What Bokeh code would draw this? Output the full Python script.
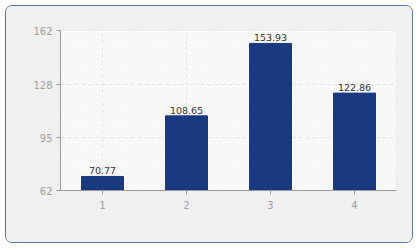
from bokeh.plotting import figure
from bokeh.models import FixedTicker, BoxAnnotation, ColumnDataSource, FactorRange
from bokeh.core.properties import value
from bokeh.embed import file_html
from bokeh.resources import INLINE

categories = ["1", "2", "3", "4"]
values = [70.77, 108.65, 153.93, 122.86]
labels = ["70.77", "108.65", "153.93", "122.86"]
y_ticks = [62, 95, 128, 162]

src = ColumnDataSource(dict(x=categories, top=values, label=labels))

p = figure(width=408, height=238, x_range=FactorRange(*categories), y_range=(62, 162),
           output_backend="svg", toolbar_location=None,
           min_border_left=54, min_border_top=24, min_border_right=18, min_border_bottom=54,
           background_fill_color="white", border_fill_color="#f0f0f0",
           outline_line_color="#e6e6e6", margin=(5, 5, 5, 5))
p.styles = {"border": "1px solid #5b73aa", "border-radius": "7px", "overflow": "hidden",
            "background-color": "#f0f0f0"}
p.x_range.range_padding = 0

hatch = BoxAnnotation(fill_color="white", fill_alpha=1, hatch_pattern="/", hatch_color="#ececec",
                      hatch_scale=5, hatch_weight=1, line_color=None, level="image")
p.add_layout(hatch)

p.vbar(x="x", top="top", bottom=62, width=0.5, source=src, fill_color="#183a80",
       line_color="#183a80")
p.text(x="x", y="top", text="label", source=src, text_align="center", text_baseline="bottom",
       y_offset=-2, text_font=value("DejaVu Sans"), text_font_size="9.5px", text_color="#333333")

for ax in (p.xaxis, p.yaxis):
    ax.axis_line_color = "#999999"
    ax.major_tick_line_color = "#999999"
    ax.minor_tick_line_color = None
    ax.major_tick_in = 0
    ax.major_tick_out = 4
    ax.major_label_text_color = "#a0a0a0"
    ax.major_label_text_font = "DejaVu Sans"
    ax.major_label_text_font_size = "10px"
p.yaxis.ticker = FixedTicker(ticks=y_ticks)
p.yaxis.major_label_standoff = 4
p.xaxis.major_label_standoff = 6

p.xgrid.grid_line_color = "#e4e4e4"
p.xgrid.grid_line_dash = "4 3"
p.ygrid.grid_line_color = "#e4e4e4"
p.ygrid.grid_line_dash = "4 3"

open("out.html", "w").write(file_html(p, INLINE))
